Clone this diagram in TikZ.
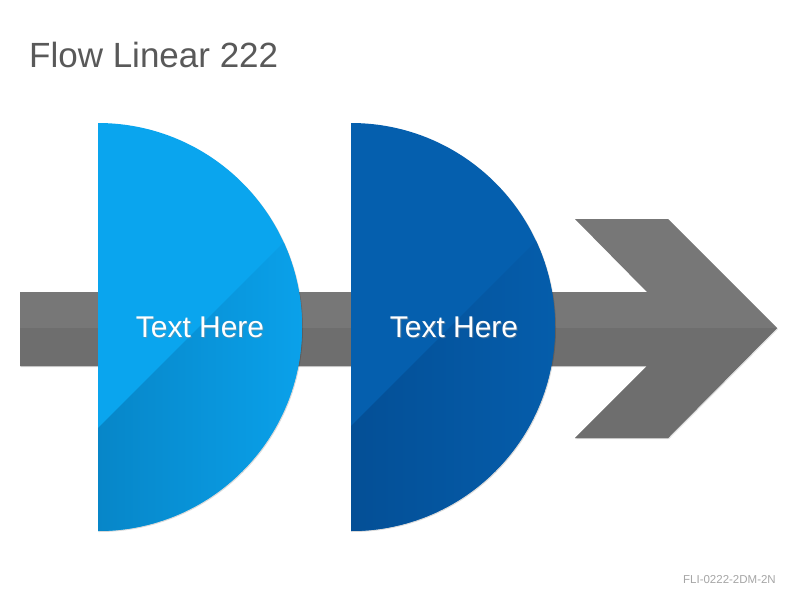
\documentclass[tikz,border=0pt]{standalone}
\usepackage{fontspec}
\setmainfont{Liberation Sans}
\definecolor{titlegray}{HTML}{595959}
\definecolor{footgray}{HTML}{A6A6A6}
\definecolor{bartop}{HTML}{777777}
\definecolor{barbot}{HTML}{6E6E6E}
\definecolor{lbtop}{HTML}{0AA5EE}
\definecolor{lbdark}{HTML}{0786C8}
\definecolor{lblight}{HTML}{0AA1EA}
\definecolor{dbtop}{HTML}{055FAE}
\definecolor{dbdark}{HTML}{044F96}
\definecolor{dblight}{HTML}{055DAB}
\tikzset{
  label text/.style={text=white, font=\fontsize{30}{35}\selectfont, anchor=base, inner sep=0pt},
  shadow text/.style={text=black!45, opacity=0.5, font=\fontsize{30}{35}\selectfont, anchor=base, inner sep=0pt}
}
\begin{document}
\begin{tikzpicture}[x=1pt,y=-1pt]
\useasboundingbox (0,0) rectangle (800,600);
\fill[white] (0,0) rectangle (800,600);
% title
\node[anchor=base west, inner sep=0pt, text=titlegray, font=\fontsize{35}{40}\selectfont] (title) at (29,67) {Flow Linear 222};
% footer
\node[anchor=base east, inner sep=0pt, text=footgray, font=\fontsize{11.5}{13}\selectfont] (foot) at (776,583) {FLI-0222-2DM-2N};
% arrow
\def\arrowpath{(20,292) -- (647,292) -- (575,219) -- (668,219) -- (777,328) -- (668,438) -- (575,438) -- (647,366) -- (20,366) -- cycle}
\fill[black, opacity=0.12] (21,293) -- (648,293) -- (576,220) -- (669,220) -- (778,329) -- (669,439) -- (576,439) -- (648,367) -- (21,367) -- cycle;
\fill[bartop] \arrowpath;
\begin{scope}
  \clip \arrowpath;
  \fill[barbot] (0,328) rectangle (800,460);
\end{scope}
% half circle 1
\fill[black, opacity=0.15] (99,124) arc[start angle=-90, end angle=90, radius=204] -- cycle;
\fill[lbtop] (98,123) arc[start angle=-90, end angle=90, radius=204] -- cycle;
\begin{scope}
  \clip (98,123) arc[start angle=-90, end angle=90, radius=204] -- cycle;
  \shade[left color=lbdark, right color=lblight] (98,428) -- (302,224) -- (302,560) -- (98,560) -- cycle;
\end{scope}
% half circle 2
\fill[black, opacity=0.15] (352,124) arc[start angle=-90, end angle=90, radius=204] -- cycle;
\fill[dbtop] (351,123) arc[start angle=-90, end angle=90, radius=204] -- cycle;
\begin{scope}
  \clip (351,123) arc[start angle=-90, end angle=90, radius=204] -- cycle;
  \shade[left color=dbdark, right color=dblight] (351,426) -- (555,222) -- (555,560) -- (351,560) -- cycle;
\end{scope}
% labels
\node[shadow text] (s1) at (201,338.5) {Text Here};
\node[label text] (t1) at (200,337) {Text Here};
\node[shadow text] (s2) at (455,338.5) {Text Here};
\node[label text] (t2) at (454,337) {Text Here};
\end{tikzpicture}
\end{document}
